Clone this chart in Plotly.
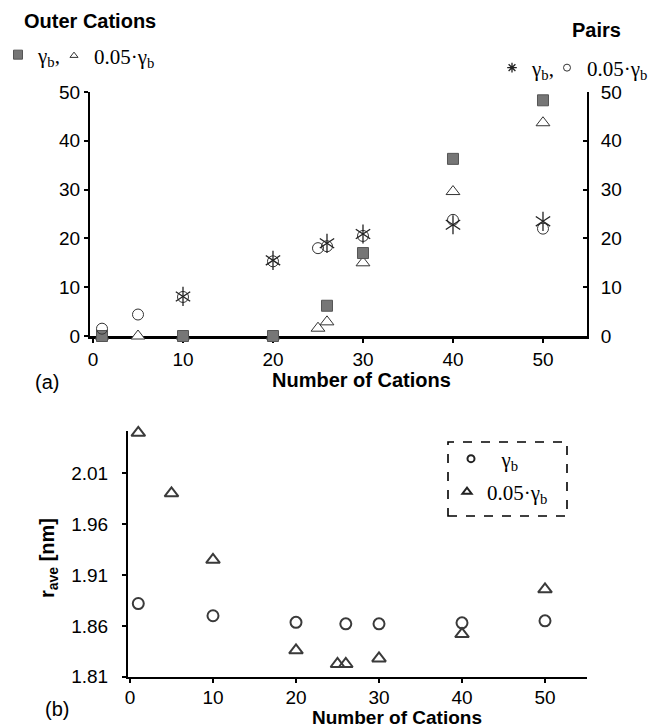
import plotly.graph_objects as go

W, H = 650, 728


def px(x):
    return x / W


def py(y):
    return 1 - y / H


# ---------------- Panel (a) data ----------------
n_outer_gb = [1, 10, 20, 26, 30, 40, 50]
outer_gb = [0, 0, 0, 6.2, 17.0, 36.3, 48.3]

n_outer_005 = [1, 5, 10, 20, 25, 26, 30, 40, 50]
outer_005 = [0, 0, 0, 0, 1.6, 2.9, 15.0, 29.6, 43.7]

n_pairs_gb = [10, 20, 26, 30, 40, 50]
pairs_gb = [8.1, 15.5, 19.0, 20.9, 22.8, 23.5]

n_pairs_005 = [1, 5, 10, 20, 25, 26, 30, 40, 50]
pairs_005 = [1.5, 4.4, 8.0, 15.3, 18.0, 18.4, 20.5, 23.8, 22.0]

ticks_a = [0, 10, 20, 30, 40, 50]

# ---------------- Panel (b) data ----------------
n_r_gb = [1, 10, 20, 26, 30, 40, 50]
r_gb = [1.882, 1.870, 1.8635, 1.862, 1.862, 1.863, 1.865]

n_r_005 = [1, 5, 10, 20, 25, 26, 30, 40, 50]
r_005 = [2.050, 1.9905, 1.925, 1.836, 1.8225, 1.8225, 1.828, 1.852, 1.896]

yticks_b = [1.81, 1.86, 1.91, 1.96, 2.01]
xticks_b = [0, 10, 20, 30, 40, 50]

SANS = "Liberation Sans, Arial, sans-serif"
SERIF = "Liberation Serif, Times New Roman, serif"
DARK = "#333333"
GREY = "#767676"

fig = go.Figure()

# ---- panel (a) traces (draw order: circles, asterisks, triangles, squares)
fig.add_trace(go.Scatter(
    x=n_pairs_005, y=pairs_005, mode="markers", xaxis="x", yaxis="y2",
    marker=dict(symbol="circle-open", size=11, color=DARK, line=dict(width=1)),
    showlegend=False, cliponaxis=False))
for sym in ("y-up-open", "y-down-open"):
    fig.add_trace(go.Scatter(
        x=n_pairs_gb, y=pairs_gb, mode="markers", xaxis="x", yaxis="y2",
        marker=dict(symbol=sym, size=12, color="#222222", line=dict(width=1.3, color="#222222")),
        showlegend=False, cliponaxis=False))
fig.add_trace(go.Scatter(
    x=n_outer_005, y=outer_005, mode="markers", xaxis="x", yaxis="y",
    marker=dict(symbol="triangle-up", size=12, color="white", line=dict(width=1, color=DARK)),
    showlegend=False, cliponaxis=False))
fig.add_trace(go.Scatter(
    x=n_outer_gb, y=outer_gb, mode="markers", xaxis="x", yaxis="y",
    marker=dict(symbol="square", size=11, color=GREY, line=dict(width=1, color="#555555")),
    showlegend=False, cliponaxis=False))

# ---- panel (b) traces
fig.add_trace(go.Scatter(
    x=n_r_gb, y=r_gb, mode="markers", xaxis="x2", yaxis="y3",
    marker=dict(symbol="circle-open", size=11, color="#3a3a3a", line=dict(width=2)),
    showlegend=False, cliponaxis=False))
fig.add_trace(go.Scatter(
    x=n_r_005, y=r_005, mode="markers", xaxis="x2", yaxis="y3",
    marker=dict(symbol="triangle-up-open", size=12, color="#3a3a3a", line=dict(width=2)),
    showlegend=False, cliponaxis=False))

# ---- legend-only entries (no data)
legend_items = [
    ("legend", "square", GREY, "#555555", 9, 1, "γ<sub>b</sub>,", "x", "y"),
    ("legend2", "triangle-up-open", DARK, DARK, 7, 1, "0.05·γ<sub>b</sub>", "x", "y"),
    ("legend3", "asterisk-open", "#222222", "#222222", 8, 1.3, "γ<sub>b</sub>,", "x", "y2"),
    ("legend4", "circle-open", DARK, DARK, 7, 1, "0.05·γ<sub>b</sub>", "x", "y2"),
    ("legend5", "circle-open", "#222222", "#222222", 7, 2, "\u00a0\u00a0γ<sub>b</sub>", "x2", "y3"),
    ("legend6", "triangle-up-open", "#222222", "#222222", 8, 2, "0.05·γ<sub>b</sub>", "x2", "y3"),
]
for lg, sym, col, lcol, sz, lw, name, xa, ya in legend_items:
    fig.add_trace(go.Scatter(
        x=[None], y=[None], mode="markers", name=name, legend=lg, xaxis=xa, yaxis=ya,
        marker=dict(symbol=sym, size=sz, color=col, line=dict(width=lw, color=lcol)),
        showlegend=True))

legend_pos = {
    "legend": (18, 55),
    "legend2": (74, 56),
    "legend3": (512, 68),
    "legend4": (567, 68),
    "legend5": (471, 459),
    "legend6": (467, 492),
}
legend_layout = {}
for lg, (cx, cy) in legend_pos.items():
    legend_layout[lg] = dict(
        x=px(cx - 20), y=py(cy), xanchor="left", yanchor="middle",
        bgcolor="rgba(0,0,0,0)", borderwidth=0,
        font=dict(family=SERIF, size=21, color="black"),
        orientation="v", itemclick=False, itemdoubleclick=False,
    )

axis_common = dict(
    showgrid=False, zeroline=False, showline=True, linecolor="black",
    tickfont=dict(family=SANS, size=19, color="black"),
    tickcolor="black", ticklen=4, tickwidth=1.5, automargin=False,
)

fig.update_layout(
    width=W, height=H,
    margin=dict(l=0, r=0, t=0, b=0, autoexpand=False),
    paper_bgcolor="white", plot_bgcolor="white",
    xaxis=dict(axis_common, domain=[px(90), px(587)], range=[-0.333, 54.89],
               anchor="y", tickvals=ticks_a, ticks="outside", linewidth=2.5,
               layer="below traces"),
    yaxis=dict(axis_common, domain=[py(336), py(92)], range=[0, 50], anchor="x",
               tickvals=ticks_a, ticks="outside", linewidth=2, layer="below traces"),
    yaxis2=dict(axis_common, overlaying="y", side="right", anchor="x", range=[0, 50],
                tickvals=ticks_a, ticks="inside", linewidth=2, ticklabelstandoff=8),
    xaxis2=dict(axis_common, domain=[px(128), px(587)], range=[-0.24, 55.06],
                anchor="y3", tickvals=xticks_b, ticks="outside", linewidth=2.2,
                layer="below traces", ticklabelstandoff=-2),
    yaxis3=dict(axis_common, domain=[py(676.7), py(431)], range=[1.81, 2.0518],
                anchor="x2", tickvals=yticks_b, ticktext=["%.2f" % v for v in yticks_b],
                ticks="outside", linewidth=2, ticklabelstandoff=10, layer="below traces"),
    **legend_layout,
)

ann_font_b = dict(family=SANS, size=20, color="black")
annotations = [
    dict(text="<b>Outer Cations</b>", x=px(22), y=py(21), xanchor="left", yanchor="middle", font=ann_font_b),
    dict(text="<b>Pairs</b>", x=px(596), y=py(30), xanchor="center", yanchor="middle", font=ann_font_b),
    dict(text="<b>Number of Cations</b>", x=px(361), y=py(380), xanchor="center", yanchor="middle", font=ann_font_b),
    dict(text="(a)", x=px(47), y=py(382), xanchor="center", yanchor="middle", font=ann_font_b),
    dict(text="<b>Number of Cations</b>", x=px(397), y=py(717), xanchor="center", yanchor="middle",
         font=dict(family=SANS, size=19, color="black")),
    dict(text="(b)", x=px(57), y=py(709), xanchor="center", yanchor="middle", font=ann_font_b),
    dict(text="<b>r<sub>ave</sub> [nm]</b>", x=px(48), y=py(558), xanchor="center", yanchor="middle",
         textangle=-90, font=ann_font_b),
]
for a in annotations:
    a.update(xref="paper", yref="paper", showarrow=False)
fig.update_layout(annotations=annotations)

fig.add_shape(type="rect", xref="paper", yref="paper",
              x0=px(448), x1=px(567), y0=py(516), y1=py(442),
              line=dict(color="black", width=1.6, dash="dash"), fillcolor="rgba(0,0,0,0)")

fig.write_html(
    "out.html",
    config={"displayModeBar": False},
    post_script="document.body.style.margin='0';document.body.style.padding='0';",
)
